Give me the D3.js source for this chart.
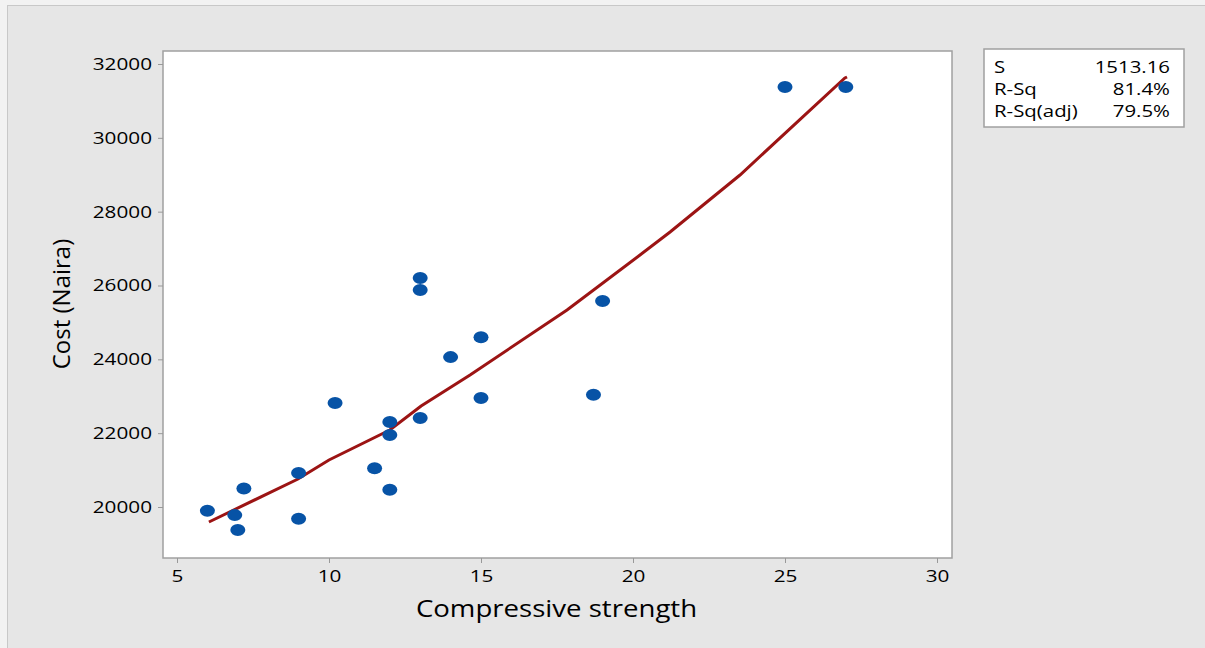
<!DOCTYPE html>
<html>
<head>
<meta charset="utf-8">
<script src="https://cdn.jsdelivr.net/npm/d3@7"></script>
<style>
  body { margin: 0; background: #f2f2f2; }
  text { font-family: "Open Sans", "Noto Sans", sans-serif; }
</style>
</head>
<body>
<svg id="chart"></svg>
<script>
(function() {

// observed points
const strength = [6, 6.9, 7, 7.2, 9, 9, 10.2, 11.5, 12, 12, 12, 13, 13, 13, 14, 15, 15, 18.7, 19, 25, 27];
const cost = [19900, 19780, 19380, 20500, 20920, 19680, 22820, 21050, 22300, 21950, 20470,
              22410, 26200, 25880, 24060, 24600, 22950, 23040, 25580, 31380, 31380];

// fitted line
const fitX = [6.05, 8.98, 10.0, 12.0, 13.03, 14.64, 17.83, 20.23, 21.22, 23.52, 26.97, 27.04];
const fitY = [19594, 20758, 21273, 22086, 22736, 23576, 25336, 26826, 27449, 28993, 31621, 31648];

const xTicks = [5, 10, 15, 20, 25, 30];
const yTicks = [20000, 22000, 24000, 26000, 28000, 30000, 32000];

const statLabels = ["S", "R-Sq", "R-Sq(adj)"];
const statValues = ["1513.16", "81.4%", "79.5%"];

const W = 1205, H = 648;
const plot = { left: 163, top: 51, right: 952, bottom: 558 };
const stretch = 1.22;   // the source text is drawn a bit wide

// widen text horizontally, keeping its anchor where it was
function widen(sel, k) {
    sel.each(function() {
        const t = d3.select(this);
        const x0 = +t.attr("x") || 0;
        t.attr("x", x0 / k).attr("transform", `scale(${k},1)`);
    });
}

const svg = d3.select("#chart")
    .attr("width", W)
    .attr("height", H);

// background panel
svg.append("rect")
    .attr("x", 7.5).attr("y", 5.5)
    .attr("width", W).attr("height", H)
    .attr("fill", "#e6e6e6")
    .attr("stroke", "#c8c8c8");

svg.append("rect")
    .attr("x", plot.left).attr("y", plot.top)
    .attr("width", plot.right - plot.left)
    .attr("height", plot.bottom - plot.top)
    .attr("fill", "#fff")
    .attr("stroke", "#a0a0a0")
    .attr("stroke-width", 1.5);

const x = d3.scaleLinear().domain([5, 30]).range([177, 937]);
const y = d3.scaleLinear().domain([20000, 32000]).range([507, 64]);

// X-axis
const gx = svg.append("g")
    .attr("transform", `translate(0,${plot.bottom})`)
    .call(d3.axisBottom(x).tickValues(xTicks).tickSize(5).tickPadding(7).tickFormat(d3.format("d")));
gx.select(".domain").remove();
gx.selectAll("line").attr("stroke", "#999");
gx.selectAll("text").attr("font-size", "17px").attr("fill", "#000").attr("font-weight", 500)
    .attr("font-family", "'Open Sans', sans-serif");
widen(gx.selectAll("text"), stretch);

// Y-axis
const gy = svg.append("g")
    .attr("transform", `translate(${plot.left},0)`)
    .call(d3.axisLeft(y).tickValues(yTicks).tickSize(5).tickPadding(6).tickFormat(d3.format("d")));
gy.select(".domain").remove();
gy.selectAll("line").attr("stroke", "#999");
gy.selectAll("text").attr("font-size", "17px").attr("fill", "#000").attr("font-weight", 500)
    .attr("font-family", "'Open Sans', sans-serif");
widen(gy.selectAll("text"), stretch);

// fit line
const fit = fitX.map((d, i) => [d, fitY[i]]);
svg.append("path")
    .datum(fit)
    .attr("fill", "none")
    .attr("stroke", "#9c1414")
    .attr("stroke-width", 3)
    .attr("d", d3.line().x(d => x(d[0])).y(d => y(d[1])));

// points
svg.selectAll(".pt")
    .data(strength.map((d, i) => [d, cost[i]]))
    .enter().append("ellipse")
    .attr("class", "pt")
    .attr("cx", d => x(d[0]))
    .attr("cy", d => y(d[1]))
    .attr("rx", 7.5)
    .attr("ry", 6)
    .attr("fill", "#0753a6");

// axis titles
svg.append("text")
    .attr("x", (plot.left + plot.right) / 2 - 1)
    .attr("y", 617)
    .attr("text-anchor", "middle")
    .attr("font-size", "23px")
    .attr("font-weight", 500)
    .attr("fill", "#000")
    .text("Compressive strength")
    .call(widen, 1.2);

svg.append("text")
    .attr("transform", `translate(70,304) rotate(-90)`)
    .attr("text-anchor", "middle")
    .attr("font-size", "24px")
    .attr("fill", "#000")
    .text("Cost (Naira)");

// stats box
const box = svg.append("g").attr("transform", "translate(984,49)");
box.append("rect")
    .attr("width", 200).attr("height", 78)
    .attr("fill", "#fff")
    .attr("stroke", "#a0a0a0")
    .attr("stroke-width", 1.5);

box.selectAll(".lab")
    .data(statLabels)
    .enter().append("text")
    .attr("class", "lab")
    .attr("x", 10)
    .attr("y", (d, i) => 24 + i * 22)
    .attr("font-size", "17px")
    .attr("font-weight", 500)
    .attr("fill", "#000")
    .text(d => d)
    .call(widen, 1.2);

box.selectAll(".val")
    .data(statValues)
    .enter().append("text")
    .attr("class", "val")
    .attr("x", 186)
    .attr("y", (d, i) => 24 + i * 22)
    .attr("text-anchor", "end")
    .attr("font-size", "17px")
    .attr("font-weight", 500)
    .attr("fill", "#000")
    .text(d => d)
    .call(widen, 1.2);

})();
</script>
</body>
</html>
